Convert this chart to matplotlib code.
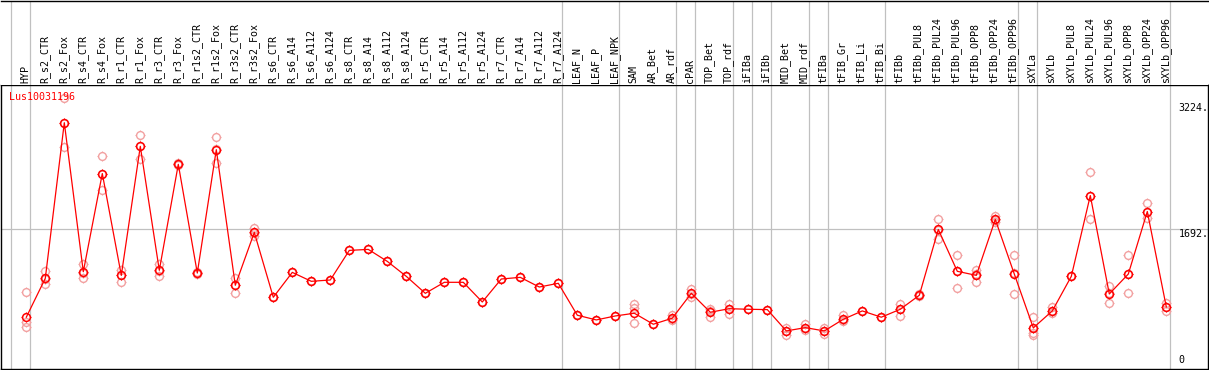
import numpy as np
import matplotlib
matplotlib.use('Agg')
import matplotlib.pyplot as plt
from matplotlib.path import Path
from matplotlib import transforms

# Data
# ----
gene = 'Lus10031196'
samples = ['HYP', 'R_s2_CTR', 'R_s2_Fox', 'R_s4_CTR', 'R_s4_Fox', 'R_r1_CTR',
           'R_r1_Fox', 'R_r3_CTR', 'R_r3_Fox', 'R_r1s2_CTR', 'R_r1s2_Fox',
           'R_r3s2_CTR', 'R_r3s2_Fox', 'R_s6_CTR', 'R_s6_A14', 'R_s6_A112',
           'R_s6_A124', 'R_s8_CTR', 'R_s8_A14', 'R_s8_A112', 'R_s8_A124',
           'R_r5_CTR', 'R_r5_A14', 'R_r5_A112', 'R_r5_A124', 'R_r7_CTR',
           'R_r7_A14', 'R_r7_A112', 'R_r7_A124', 'LEAF_N', 'LEAF_P', 'LEAF_NPK',
           'SAM', 'AR_Bet', 'AR_rdf', 'cPAR', 'TOP_Bet', 'TOP_rdf', 'iFIBa',
           'iFIBb', 'MID_Bet', 'MID_rdf', 'tFIBa', 'tFIB_Gr', 'tFIB_Li',
           'tFIB_Bi', 'tFIBb', 'tFIBb_PUL8', 'tFIBb_PUL24', 'tFIBb_PUL96',
           'tFIBb_OPP8', 'tFIBb_OPP24', 'tFIBb_OPP96', 'sXYLa', 'sXYLb',
           'sXYLb_PUL8', 'sXYLb_PUL24', 'sXYLb_PUL96', 'sXYLb_OPP8',
           'sXYLb_OPP24', 'sXYLb_OPP96']

mean_expr = [630, 1100, 2982, 1180, 2367, 1136, 2696, 1197, 2479, 1164,
             2656, 1016, 1655, 871, 1172, 1064, 1080, 1438, 1450, 1305,
             1124, 919, 1052, 1052, 814, 1092, 1112, 995, 1040, 654,
             597, 645, 678, 545, 618, 919, 690, 733, 726, 722,
             464, 504, 464, 605, 706, 630, 726, 895, 1691, 1185,
             1136, 1812, 1152, 501, 706, 1124, 2101, 911, 1152, 1908,
             754]

rep_expr = [[931, 569, 509], [1188, 1028, 1090], [3283, 2688, 2975],
            [1273, 1100, 1170], [2575, 2174, 2360], [1200, 1059, 1140],
            [2837, 2548, 2700], [1273, 1132, 1190], [2490, 2470, 2480],
            [1175, 1155, 1165], [2805, 2499, 2660], [1100, 923, 1020],
            [1711, 1614, 1650], [871, 871], [1172, 1172], [1064, 1064],
            [1080, 1080], [1438, 1438], [1450, 1450], [1305, 1305],
            [1124, 1124], [919, 919], [1052, 1052], [1052, 1052], [814, 814],
            [1092, 1092], [1112, 1112], [995, 995], [1040, 1040], [654, 654],
            [597, 597], [645, 645], [786, 745, 564], [545, 545], [654, 600, 610],
            [967, 878, 915], [730, 637, 700], [794, 673, 735], [726, 726],
            [722, 722], [504, 420, 465], [549, 473, 500], [504, 428, 460],
            [654, 590, 600], [706, 706], [630, 630], [790, 649, 730],
            [905, 885, 895], [1812, 1570, 1690], [1377, 979, 1190],
            [1200, 1059, 1150], [1855, 1783, 1800], [1377, 911, 1160],
            [630, 444, 416, 501], [750, 678, 700], [1124, 1124],
            [2382, 1812, 2100], [1007, 799, 920], [1377, 926, 1150],
            [2017, 1824, 1900], [799, 709, 754]]

# group separators sit just right of these sample indices
group_breaks = [-1, 0, 28, 31, 34, 35, 37, 38, 39, 41, 42, 45, 52, 53, 60]
ytick_vals = [0, 1692, 3224]
ytick_text = ['0', '1692.', '3224.']

# small ticks around each circle marker
tick_verts, tick_codes = [], []
for (a, b) in [((0, 1), (0, 1.4)), ((0, -1), (0, -1.4)),
               ((1, 0), (1.4, 0)), ((-1, 0), (-1.4, 0))]:
    tick_verts += [a, b]
    tick_codes += [Path.MOVETO, Path.LINETO]
ticks_marker = Path(tick_verts, tick_codes)

# Figure layout (pixel based)
# ---------------------------
W, H = 1209, 370
fig = plt.figure(figsize=(W / 100, H / 100), dpi=100)
top_px, bot_px, left_px, right_px = 85, 369.3, 1, 1208.3
ax = fig.add_axes([left_px / W, (H - bot_px) / H,
                   (right_px - left_px) / W, (bot_px - top_px) / H])
axl = fig.add_axes([left_px / W, (H - top_px) / H,
                    (right_px - left_px) / W, (top_px - 0.5) / H])

x = np.arange(len(samples))
xlim = ((left_px - 26.3) / 19, (right_px - 26.3) / 19)
for a in (ax, axl):
    a.set_xlim(*xlim)
    for b in group_breaks:
        a.axvline(b + 0.22, color='#c0c0c0', lw=0.9, zorder=0)
    a.set_xticks([])

ax.set_ylim(0, 3438)
ax.axhline(ytick_vals[1], color='#c0c0c0', lw=0.9, zorder=0)

circle_ms = 5.6
tick_ms = circle_ms * 1.4

# replicates
for xi, reps in zip(x, rep_expr):
    xs = [xi] * len(reps)
    ax.plot(xs, reps, ls='none', marker='o', ms=circle_ms,
            mfc='none', mec='#f2a0a0', mew=1.0, zorder=2)
    ax.plot(xs, reps, ls='none', marker=ticks_marker, ms=tick_ms,
            mec='#f2a0a0', mew=0.8, zorder=2)

# mean line + markers
ax.plot(x, mean_expr, color='red', lw=0.9, zorder=3)
ax.plot(x, mean_expr, ls='none', marker='o', ms=circle_ms, mfc='none',
        mec='red', mew=1.1, zorder=4)
ax.plot(x, mean_expr, ls='none', marker=ticks_marker, ms=tick_ms,
        mec='red', mew=0.8, zorder=4)

mono = 'DejaVu Sans Mono'
ax.text(8 / (right_px - left_px), 0.959, gene, transform=ax.transAxes,
        color='red', fontsize=7.2, family=mono, va='center', ha='left')

# y labels inside right edge
ax.yaxis.tick_right()
ax.set_yticks(ytick_vals)
ax.set_yticklabels(ytick_text, family=mono, fontsize=7.2)
ax.tick_params(axis='y', length=0, pad=-21.5)
for lab, val in zip(ax.get_yticklabels(), ytick_vals):
    lab.set_va('bottom' if val == 0 else 'top')
    if val == 0:
        lab.set_transform(lab.get_transform() +
                          transforms.ScaledTranslation(0, 4 / 100, fig.dpi_scale_trans))

for s in ax.spines.values():
    s.set_linewidth(1.0)
    s.set_color('black')

# sample labels
axl.set_ylim(0, 1)
axl.set_yticks([])
for side in ('left', 'right', 'bottom'):
    axl.spines[side].set_visible(False)
axl.spines['top'].set_linewidth(1.0)
for xi, name in zip(x, samples):
    axl.text(xi - 0.05, 0.02, name, rotation=90, ha='center', va='bottom',
             fontsize=7.2, family=mono)

fig.savefig('out.png', dpi=100)
